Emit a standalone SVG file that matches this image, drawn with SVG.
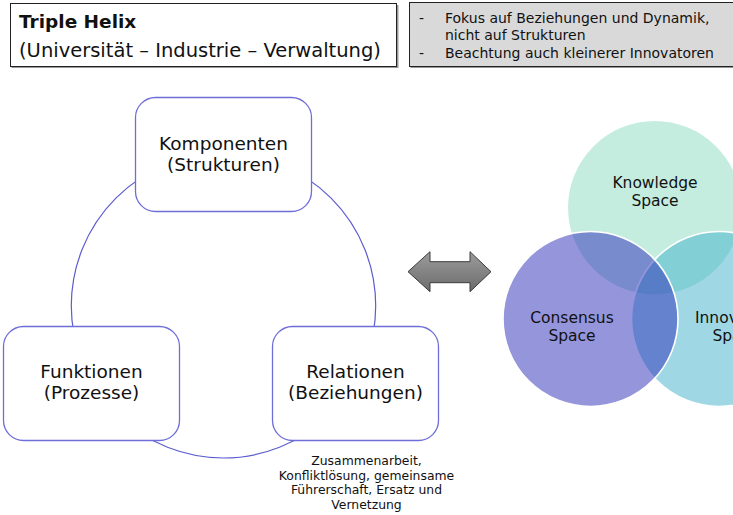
<svg xmlns="http://www.w3.org/2000/svg" width="733" height="515" viewBox="0 0 733 515">
<style>
  text { font-family: "DejaVu Sans", Verdana, sans-serif; fill: #111; }
  .node rect { fill: #fff; stroke: #6e6ed8; stroke-width: 1.3; }
  .node text { font-size: 18.5px; text-anchor: middle; }
  .venn circle { stroke: #fff; stroke-width: 1.6; fill-opacity: 0.5; }
  .venn text { font-size: 15.5px; text-anchor: middle; }
  .note { font-size: 14px; }
</style>
<defs>
  <linearGradient id="arrowGrad" x1="0" y1="0" x2="0" y2="1">
    <stop offset="0" stop-color="#9c9c9c"/>
    <stop offset="1" stop-color="#6c6c6c"/>
  </linearGradient>
</defs>
<rect width="733" height="515" fill="#fff"/>

<g id="header-title">
  <rect x="11.5" y="5" width="387" height="63" fill="#999"/>
  <rect x="10.5" y="3.5" width="386" height="63" fill="#fff" stroke="#222" stroke-width="1"/>
  <text x="19" y="28" style="font-size:18.5px;font-weight:bold">Triple Helix</text>
  <text x="19" y="57" style="font-size:19.5px">(Universität – Industrie – Verwaltung)</text>
</g>

<g id="header-notes">
  <rect x="410.5" y="4" width="330" height="64" fill="#999"/>
  <rect x="409.5" y="2.5" width="330" height="64" fill="#d9d9d9" stroke="#222" stroke-width="1"/>
  <text class="note" x="419" y="23">-</text>
  <text class="note" x="445" y="23">Fokus auf Beziehungen und Dynamik,</text>
  <text class="note" x="445" y="40">nicht auf Strukturen</text>
  <text class="note" x="419" y="58">-</text>
  <text class="note" x="445" y="58">Beachtung auch kleinerer Innovatoren</text>
</g>

<g id="connectors">
  <circle cx="223.5" cy="305.8" r="152.2" fill="none" stroke="#5c5cd0" stroke-width="1.2"/>
</g>

<g id="komponenten" class="node">
  <rect x="135.5" y="97.5" width="176" height="114" rx="20"/>
  <text x="223.5" y="150">Komponenten</text>
  <text x="223.5" y="171">(Strukturen)</text>
</g>

<g id="funktionen" class="node">
  <rect x="3.5" y="326.5" width="176" height="114" rx="20"/>
  <text x="91.5" y="378">Funktionen</text>
  <text x="91.5" y="399">(Prozesse)</text>
</g>

<g id="relationen" class="node">
  <rect x="272.5" y="326.5" width="166" height="114" rx="20"/>
  <text x="355.5" y="378">Relationen</text>
  <text x="355.5" y="399">(Beziehungen)</text>
</g>

<g id="relationen-note">
  <text x="366.5" y="465" style="font-size:12.4px;text-anchor:middle">Zusammenarbeit,</text>
  <text x="366.5" y="479.5" style="font-size:12.4px;text-anchor:middle">Konfliktlösung, gemeinsame</text>
  <text x="366.5" y="494" style="font-size:12.4px;text-anchor:middle">Führerschaft, Ersatz und</text>
  <text x="366.5" y="508.5" style="font-size:12.4px;text-anchor:middle">Vernetzung</text>
</g>

<g id="double-arrow">
  <polygon points="408,271.7 430,251.7 430,261.7 470,261.7 470,251.7 491,271.7 470,291.7 470,282.7 430,282.7 430,291.7" fill="url(#arrowGrad)" stroke="#3c3c3c" stroke-width="1"/>
</g>

<g id="venn" class="venn">
  <g id="knowledge-space">
    <circle cx="654.75" cy="207.7" r="87.5" fill="#89dbc1" fill-opacity="0.5"/>
  </g>
  <g id="innovation-space">
    <circle cx="719" cy="319" r="87.5" fill="#3fb1c9"/>
  </g>
  <g id="consensus-space">
    <circle cx="590.5" cy="319" r="87.5" fill="#2b2bb9"/>
  </g>
  <text x="655" y="188">Knowledge</text>
  <text x="655" y="206">Space</text>
  <text x="572" y="323">Consensus</text>
  <text x="572" y="341">Space</text>
  <text x="736" y="323">Innovation</text>
  <text x="736" y="341">Space</text>
</g>
</svg>
